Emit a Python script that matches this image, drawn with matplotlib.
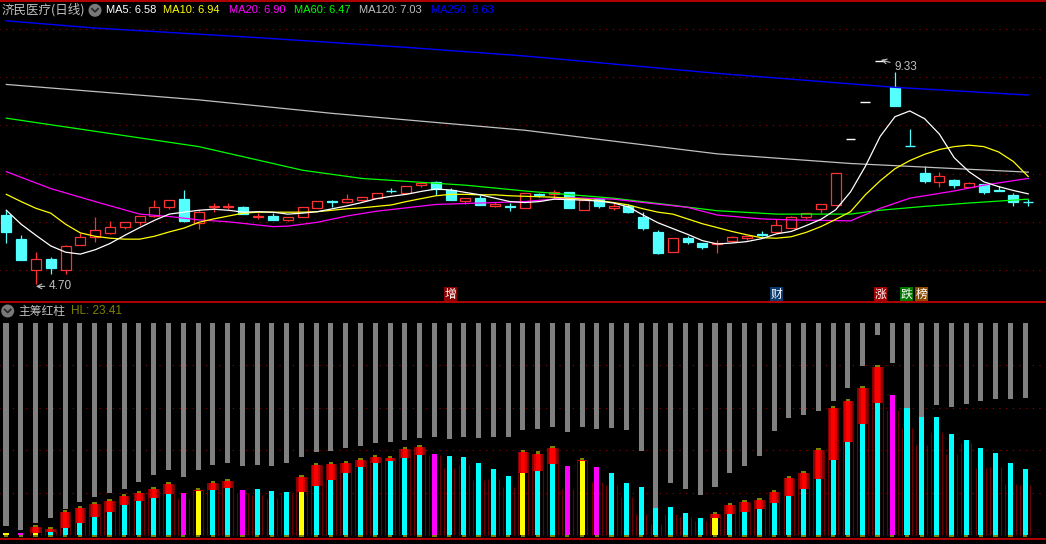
import numpy as np
import matplotlib
matplotlib.use('Agg')
import matplotlib.pyplot as plt
from matplotlib.patches import Rectangle, Circle

plt.rcParams['font.family'] = ['Liberation Sans', 'Noto Sans CJK SC', 'DejaVu Sans']
CJK = ['Noto Sans CJK SC', 'DejaVu Sans']

# ---- K线 (日线) ----
opens = [6.14, 5.64, 4.99, 5.23, 4.99, 5.52, 5.68, 5.76, 5.89, 6.00,
         6.13, 6.31, 6.47, 5.98, 6.30, 6.31, 6.30, 6.10, 6.12, 6.04,
         6.11, 6.29, 6.44, 6.42, 6.46, 6.49, 6.65, 6.60, 6.76, 6.82,
         6.65, 6.44, 6.50, 6.33, 6.33, 6.29, 6.58, 6.57, 6.62, 6.25,
         6.47, 6.29, 6.33, 6.10, 5.79, 5.38, 5.66, 5.55, 5.53, 5.61,
         5.66, 5.75, 5.79, 5.87, 6.09, 6.26, 6.34, 7.71, 8.48, 9.33,
         8.80, 7.58, 7.02, 6.83, 6.87, 6.72, 6.78, 6.66, 6.55, 6.42]
highs = [6.24, 5.73, 5.38, 5.26, 5.52, 5.77, 6.09, 6.01, 5.99, 6.13,
         6.45, 6.45, 6.66, 6.24, 6.38, 6.38, 6.33, 6.19, 6.19, 6.10,
         6.31, 6.43, 6.45, 6.58, 6.51, 6.59, 6.70, 6.74, 6.83, 6.85,
         6.70, 6.49, 6.55, 6.41, 6.38, 6.60, 6.60, 6.66, 6.62, 6.45,
         6.47, 6.39, 6.36, 6.21, 5.83, 5.66, 5.71, 5.55, 5.62, 5.71,
         5.70, 5.80, 6.06, 6.13, 6.18, 6.36, 7.01, 7.71, 8.48, 9.33,
         9.10, 7.93, 7.16, 7.03, 6.89, 6.83, 6.78, 6.75, 6.59, 6.47]
lows = [5.55, 5.21, 4.70, 4.91, 4.91, 5.52, 5.59, 5.74, 5.85, 5.93,
        6.09, 6.26, 6.00, 5.86, 6.20, 6.27, 6.16, 6.06, 6.04, 6.02,
        6.11, 6.29, 6.31, 6.38, 6.44, 6.49, 6.60, 6.60, 6.72, 6.56,
        6.46, 6.36, 6.35, 6.30, 6.23, 6.29, 6.51, 6.49, 6.29, 6.25,
        6.29, 6.24, 6.18, 5.82, 5.33, 5.38, 5.54, 5.44, 5.36, 5.59,
        5.62, 5.71, 5.79, 5.87, 6.06, 6.19, 6.34, 7.71, 8.48, 9.33,
        8.41, 7.57, 6.81, 6.73, 6.71, 6.72, 6.58, 6.63, 6.33, 6.33]
closes = [5.79, 5.21, 5.22, 5.05, 5.49, 5.68, 5.84, 5.89, 5.99, 6.13,
          6.30, 6.45, 6.02, 6.20, 6.33, 6.33, 6.16, 6.12, 6.04, 6.10,
          6.31, 6.43, 6.42, 6.47, 6.51, 6.59, 6.64, 6.74, 6.81, 6.69,
          6.46, 6.49, 6.35, 6.37, 6.30, 6.60, 6.56, 6.62, 6.29, 6.45,
          6.33, 6.33, 6.20, 5.88, 5.36, 5.66, 5.58, 5.48, 5.55, 5.68,
          5.70, 5.73, 5.93, 6.09, 6.18, 6.36, 7.01, 7.71, 8.48, 9.33,
          8.41, 7.57, 6.85, 6.95, 6.77, 6.80, 6.62, 6.64, 6.42, 6.41]

# 均线
ma5 = [6.24, 5.95, 5.72, 5.50, 5.37, 5.33, 5.42, 5.55, 5.72, 5.88,
       6.03, 6.16, 6.20, 6.24, 6.26, 6.24, 6.20, 6.21, 6.20, 6.16,
       6.18, 6.21, 6.27, 6.33, 6.40, 6.48, 6.53, 6.57, 6.63, 6.68,
       6.66, 6.61, 6.56, 6.49, 6.42, 6.40, 6.42, 6.47, 6.46, 6.45,
       6.43, 6.39, 6.31, 6.14, 5.98, 5.86, 5.74, 5.61, 5.54, 5.56,
       5.59, 5.65, 5.75, 5.80, 5.92, 6.05, 6.25, 6.62, 7.15, 7.77,
       8.18, 8.30, 8.14, 7.82, 7.33, 7.04, 6.83, 6.73, 6.65, 6.58]
ma10 = [6.57, 6.42, 6.28, 6.18, 5.95, 5.77, 5.70, 5.66, 5.64, 5.64,
        5.70, 5.79, 5.87, 5.99, 6.06, 6.12, 6.18, 6.20, 6.20, 6.20,
        6.20, 6.21, 6.24, 6.27, 6.29, 6.32, 6.35, 6.42, 6.48, 6.54,
        6.57, 6.57, 6.56, 6.56, 6.54, 6.53, 6.52, 6.51, 6.49, 6.47,
        6.44, 6.40, 6.35, 6.27, 6.20, 6.16, 6.06, 5.96, 5.88, 5.80,
        5.73, 5.67, 5.66, 5.69, 5.78, 5.90, 6.05, 6.21, 6.56, 6.85,
        7.10, 7.27, 7.40, 7.50, 7.56, 7.59, 7.56, 7.45, 7.25, 6.94]
ma20_x = [0, 3, 6, 9, 11, 13, 15, 18, 19, 21, 23, 25, 27, 29, 31, 34, 35,
          38, 41, 43, 46, 48, 51, 53, 57, 59, 61, 64, 66, 69]
ma20 = [7.04, 6.69, 6.42, 6.16, 6.11, 6.04, 6.00, 5.90, 5.91, 5.99, 6.12,
        6.22, 6.29, 6.36, 6.38, 6.41, 6.42, 6.50, 6.47, 6.40, 6.30, 6.14,
        6.06, 6.04, 6.02, 6.28, 6.49, 6.64, 6.76, 6.90]
ma60_x = [0, 13, 20, 24, 28, 31, 35, 41, 44, 48, 52, 57, 59, 62, 65, 67, 69]
ma60 = [8.15, 7.56, 7.07, 6.90, 6.82, 6.76, 6.64, 6.49, 6.38, 6.23, 6.16,
        6.16, 6.24, 6.32, 6.39, 6.43, 6.47]
ma120_x = [0, 13, 22, 35, 48, 57, 69]
ma120 = [8.85, 8.53, 8.25, 7.90, 7.41, 7.21, 7.03]
ma250_x = [0, 6, 17, 27, 35, 48, 60, 69]
ma250 = [10.17, 10.02, 9.82, 9.62, 9.44, 9.08, 8.79, 8.63]

# ---- 主筹红柱 ----
gray_low = [4.2, 2.4, 5.8, 8.2, 12.2, 15.5, 17.9, 19.9, 21.6, 24.9,
            28.2, 30.6, 27.3, 30.6, 32.9, 33.9, 32.5, 32.9, 32.5, 33.9,
            36.7, 39.1, 39.5, 40.9, 41.9, 43.3, 43.8, 44.7, 45.6, 46.1,
            45.2, 46.1, 45.6, 46.1, 46.1, 49.4, 49.9, 50.8, 48.5, 50.8,
            49.9, 50.4, 49.4, 39.5, 12.7, 24.5, 21.6, 18.8, 22.6, 29.2,
            32.5, 37.2, 48.9, 55.1, 56.5, 58.4, 63.1, 69.2, 79.5, 94.1,
            80.9, 59.8, 55.5, 61.2, 60.2, 61.6, 63.1, 64.0, 64.0, 64.5]
bar_top = [0.8, 0.8, 1.1, 1.6, 3.5, 5.6, 8.5, 10.8, 14.1, 16.0,
           17.4, 19.5, 19.9, 20.7, 21.2, 22.1, 21.2, 21.6, 20.7, 20.2,
           20.2, 23.1, 25.9, 29.2, 32.0, 33.9, 34.8, 36.2, 37.6, 38.3,
           37.2, 36.7, 33.9, 31.1, 27.8, 29.2, 30.1, 33.4, 32.5, 34.8,
           32.0, 29.2, 24.5, 22.6, 12.7, 13.2, 10.4, 8.0, 8.0, 9.9,
           10.8, 12.2, 15.1, 18.4, 21.6, 26.4, 35.3, 43.8, 52.2, 62.1,
           65.9, 59.8, 55.5, 55.5, 47.5, 44.7, 40.9, 38.6, 33.9, 31.1]
red_top = [0.0, 0.0, 3.6, 2.8, 10.7, 12.5, 14.4, 16.0, 18.4, 19.9,
           21.8, 23.8, 17.3, 21.2, 24.5, 25.4, 19.6, 18.8, 17.3, 19.6,
           27.1, 32.8, 33.3, 33.7, 35.1, 36.7, 36.4, 40.3, 41.3, 37.6,
           31.4, 32.9, 25.9, 26.2, 22.7, 39.2, 38.3, 41.1, 21.5, 35.3,
           25.1, 23.5, 18.0, 9.9, 5.2, 9.9, 8.3, 6.6, 9.9, 14.1,
           15.5, 16.5, 20.2, 26.8, 29.2, 40.0, 59.8, 63.1, 69.2, 79.1,
           58.8, 50.4, 42.4, 48.5, 38.1, 43.3, 31.5, 32.0, 24.0, 23.5]
bar_kind = "ymyccccccccc" "my" "cc" "m" "ccc" "y" "cccccccc" "m" "ccccc" "y" \
           "cc" "m" "y" "m" "ccccccc" "y" "ccccccccccc" "m" "ccccccccc"
hl_value = "23.41"

tags = ['增', '财', '涨', '跌', '榜']
tag_x = [30, 52, 59, 60.8, 61.8]
tag_bg = ['#8b0000', '#0a3a6e', '#a00000', '#007800', '#8b4a00']

W, H = 1046, 544
RED = '#ff3232'
CYAN = '#54ffff'
GRID = '#a00000'

fig = plt.figure(figsize=(W / 100, H / 100), dpi=100, facecolor='black')
ax1 = fig.add_axes([0, 1 - 301 / H, 1, 301 / H])
ax2 = fig.add_axes([0, 5 / H, 1, 237 / H])
for a in (ax1, ax2):
    a.set_facecolor('black')
    a.set_axis_off()

ax1.set_xlim(-0.4254, 70.20)
ax1.set_ylim(4.357, 10.602)
ax2.set_xlim(-0.4062, 70.41)
ax2.set_ylim(-1.88, 109.65)

n = len(closes)
x = np.arange(n)

# 网格
ax1.hlines([5, 6, 7, 8, 9, 10], -1, 71, colors=GRID, linestyles=(0, (1, 5)), lw=0.8, zorder=1)
ax2.hlines([20, 40, 60, 80], -1, 71, colors=GRID, linestyles=(0, (1, 5)), lw=0.8, zorder=1)

# 蜡烛
bw = 0.675
for i in range(n):
    o, h, l, c = opens[i], highs[i], lows[i], closes[i]
    if c > o:
        col = RED
    elif c < o:
        col = CYAN
    else:
        col = 'white'
    top, bot = max(o, c), min(o, c)
    if top - bot < 0.015:
        ax1.hlines((o + c) / 2, i - bw / 2, i + bw / 2, colors=col, lw=1.0, zorder=2)
        if h > l:
            ax1.vlines(i, l, h, colors=col, lw=0.9, zorder=2)
        continue
    fc = 'black' if c > o else col
    ax1.add_patch(Rectangle((i - bw / 2, bot), bw, top - bot, facecolor=fc,
                            edgecolor=col, lw=0.9, zorder=2))
    if h > top:
        ax1.vlines(i, top, h, colors=col, lw=0.9, zorder=2)
    if l < bot:
        ax1.vlines(i, l, bot, colors=col, lw=0.9, zorder=2)

# 均线
ax1.plot(ma250_x, ma250, color='#0000ff', lw=1.0, zorder=3)
ax1.plot(ma120_x, ma120, color='#c0c0c0', lw=0.9, zorder=3)
ax1.plot(ma60_x, ma60, color='#00ff00', lw=0.9, zorder=3)
ax1.plot(ma20_x, ma20, color='#ff00ff', lw=0.9, zorder=3)
ax1.plot(x, ma10, color='#ffff00', lw=0.9, zorder=3)
ax1.plot(x, ma5, color='#ffffff', lw=0.9, zorder=3)

# 最高最低标注
ax1.annotate('4.70', xy=(2, 4.66), xytext=(2.88, 4.66), color='#c0c0c0', fontsize=8.5,
             ha='left', va='center',
             arrowprops=dict(arrowstyle='->', color='#c0c0c0', lw=0.8, shrinkA=1, shrinkB=0))
ax1.annotate('9.33', xy=(59.05, 9.36), xytext=(59.95, 9.22), color='#c0c0c0', fontsize=8.5,
             ha='left', va='center',
             arrowprops=dict(arrowstyle='->', color='#c0c0c0', lw=0.8, shrinkA=1, shrinkB=0))

for t, tx, bg in zip(tags, tag_x, tag_bg):
    ax1.text(tx, 4.50, t, color='white', fontsize=8.5, family=CJK, ha='center', va='center',
             bbox=dict(boxstyle='square,pad=0.06', fc=bg, ec='none'), zorder=4)

# 主筹红柱
gl = np.array(gray_low)
bt = np.array(bar_top)
rt = np.array(red_top)
ax2.bar(x, 100 - gl, bottom=gl, width=0.34, color='#808080', zorder=2)
ax2.vlines(x - 0.36, 0, rt, colors='#700000', lw=0.8, zorder=2)
ax2.vlines(x + 0.36, 0, rt, colors='#700000', lw=0.8, zorder=2)
m = rt > bt
ax2.bar(x[m], (rt - bt)[m], bottom=bt[m], width=0.72, color='#8a0000', zorder=3)
ax2.bar(x[m], (rt - bt)[m], bottom=bt[m], width=0.5, color='#d00000', zorder=3)
ax2.bar(x[m], (rt - bt)[m], bottom=bt[m], width=0.28, color='#ff0000', zorder=3)
ax2.bar(x[m], 1.0, bottom=rt[m], width=0.3, color='#808000', zorder=3)
kind_col = {'c': '#00ffff', 'y': '#ffff00', 'm': '#ff00ff'}
ax2.bar(x, bt, bottom=0, width=0.34, color=[kind_col[k] for k in bar_kind], zorder=4)
ax2.bar(x, 1.0, bottom=-0.9, width=0.3, color='#808000', zorder=4)

# 文字与边框 (像素坐标)
ov = fig.add_axes([0, 0, 1, 1])
ov.set_xlim(0, W)
ov.set_ylim(H, 0)
ov.set_axis_off()
ov.patch.set_alpha(0)

ov.hlines(302, 0, W, colors='#d00000', lw=1.2)
ov.hlines(539, 0, W, colors='#d00000', lw=1.2)
ov.hlines(0.6, 0, W, colors='#d00000', lw=1.2)

ov.text(2, 10, '济民医疗(日线)', color='#c0c0c0', fontsize=9, family=CJK, ha='left', va='center')
for cx, cy in [(95, 10.3), (7.7, 311)]:
    ov.add_patch(Circle((cx, cy), 5.8, color='#7a7a7a'))
    ov.plot([cx - 3, cx, cx + 3], [cy - 1.5, cy + 1.5, cy - 1.5], color='#2a2a2a', lw=1.3)

ma_labels = ['MA5: 6.58', 'MA10: 6.94', 'MA20: 6.90', 'MA60: 6.47', 'MA120: 7.03', 'MA250: 8.63']
ma_cols = ['#ffffff', '#ffff00', '#ff00ff', '#00ff00', '#c0c0c0', '#0000ff']
ma_pos = [106, 163, 229, 294, 359, 431]
for s, c, px in zip(ma_labels, ma_cols, ma_pos):
    ov.text(px, 10, s, color=c, fontsize=8, ha='left', va='center')

ov.text(18, 311, '主筹红柱', color='#c0c0c0', fontsize=8.5, family=CJK, ha='left', va='center')
ov.text(71, 311, 'HL: ' + hl_value, color='#808000', fontsize=8.5, ha='left', va='center')

fig.savefig('out.png', dpi=100, facecolor='black')
